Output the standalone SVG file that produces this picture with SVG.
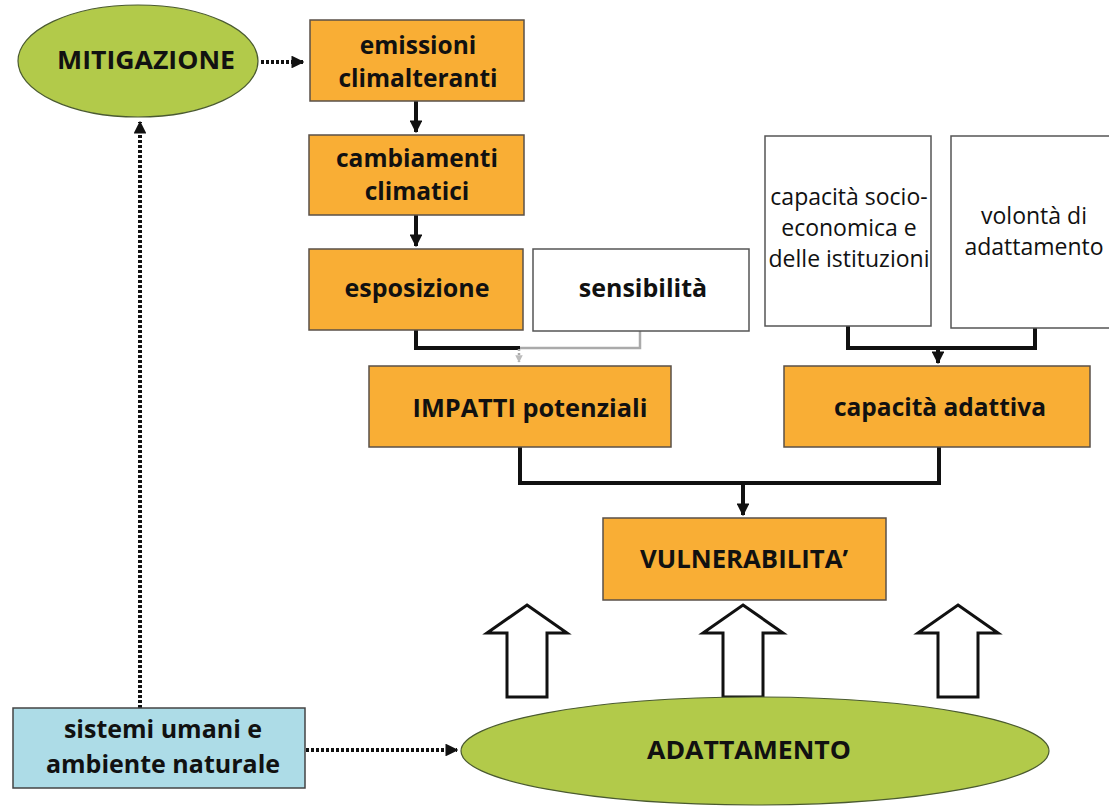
<svg xmlns="http://www.w3.org/2000/svg" width="1109" height="806" viewBox="0 0 1109 806">
<defs>
<style>
.or{fill:#F9AE35;stroke:#5a5048;stroke-width:1.5}
.wh{fill:#fff;stroke:#555;stroke-width:1.5}
.gr{fill:#B2CA4A;stroke:#4a5a30;stroke-width:1.2}
.bl{fill:#ADDCE7;stroke:#444;stroke-width:1.5}
.t{font-family:"Open Sans","Noto Sans",sans-serif;font-weight:bold;font-size:24.5px;fill:#111;text-anchor:middle}
.tn{font-family:"Open Sans","Noto Sans",sans-serif;font-size:23px;fill:#111;text-anchor:middle}
.c{fill:none;stroke:#111;stroke-width:4}
.cg{fill:none;stroke:#aaa;stroke-width:2.5}
.d{fill:none;stroke:#111;stroke-width:4;stroke-dasharray:3 2}
.ha{fill:#fff;stroke:#111;stroke-width:3;stroke-linejoin:miter}
</style>
<marker id="ah" viewBox="0 0 10 10" refX="9" refY="5" markerWidth="3.2" markerHeight="3.2" orient="auto"><path d="M0,0L10,5L0,10z" fill="#111"/></marker>
<marker id="ahg" viewBox="0 0 10 10" refX="9" refY="5" markerWidth="3" markerHeight="3" orient="auto"><path d="M0,0L10,5L0,10z" fill="#bbb"/></marker>
</defs>
<g id="connectors">
<path class="d" d="M261,62H303" marker-end="url(#ah)"/>
<path class="d" d="M140,708V122" marker-end="url(#ah)"/>
<path class="d" d="M306,750H457" marker-end="url(#ah)"/>
<path class="c" d="M416,101V132" marker-end="url(#ah)"/>
<path class="c" d="M416,215V246" marker-end="url(#ah)"/>
<path class="cg" d="M519,348H640V331"/>
<path class="c" d="M416,330V348H520"/>
<path class="cg" d="M519,349V362" stroke-dasharray="2 2" marker-end="url(#ahg)"/>
<path class="c" d="M848,326V348H1035V328"/>
<path class="c" d="M938,348V363" marker-end="url(#ah)"/>
<path class="c" d="M520,447V483H939V447"/>
<path class="c" d="M743,483V515" marker-end="url(#ah)"/>
<path class="ha" d="M527,605L567,633H547V697H507V633H487Z"/>
<path class="ha" d="M743,605L783,633H763V697H723V633H703Z"/>
<path class="ha" d="M958,605L998,633H978V697H938V633H918Z"/>
</g>
<g id="mitigazione"><ellipse class="gr" cx="138" cy="61" rx="120" ry="56"/><text class="t" x="146" y="69" textLength="178" lengthAdjust="spacingAndGlyphs">MITIGAZIONE</text></g>
<g id="emissioni"><rect class="or" x="310" y="20" width="214" height="81"/><text class="t" x="418" y="54">emissioni</text><text class="t" x="418" y="87">climalteranti</text></g>
<g id="cambiamenti"><rect class="or" x="309" y="135" width="215" height="80"/><text class="t" x="417" y="167">cambiamenti</text><text class="t" x="417" y="200">climatici</text></g>
<g id="esposizione"><rect class="or" x="309" y="249" width="214" height="81"/><text class="t" x="417" y="297" style="font-size:25px">esposizione</text></g>
<g id="sensibilita"><rect class="wh" x="533" y="249" width="216" height="82"/><text class="t" x="643" y="297" style="font-size:25px">sensibilità</text></g>
<g id="capacita-socio"><rect class="wh" x="765" y="136" width="166" height="190"/><text class="tn" x="849" y="205">capacità socio-</text><text class="tn" x="849" y="236">economica e</text><text class="tn" x="849" y="267">delle istituzioni</text></g>
<g id="volonta"><rect class="wh" x="951" y="136" width="165" height="192"/><text class="tn" x="1034" y="224">volontà di</text><text class="tn" x="1034" y="255">adattamento</text></g>
<g id="impatti"><rect class="or" x="369" y="366" width="302" height="81"/><text class="t" x="530" y="417" textLength="235" lengthAdjust="spacingAndGlyphs">IMPATTI potenziali</text></g>
<g id="capacita-adattiva"><rect class="or" x="784" y="366" width="306" height="81"/><text class="t" x="940" y="416" textLength="212" lengthAdjust="spacingAndGlyphs">capacità adattiva</text></g>
<g id="vulnerabilita"><rect class="or" x="603" y="518" width="283" height="82"/><text class="t" x="744" y="568" textLength="208" lengthAdjust="spacingAndGlyphs">VULNERABILITA’</text></g>
<g id="sistemi"><rect class="bl" x="13" y="708" width="292" height="80"/><text class="t" x="163" y="738" style="font-size:25px">sistemi umani e</text><text class="t" x="163" y="773" style="font-size:25px">ambiente naturale</text></g>
<g id="adattamento"><ellipse class="gr" cx="755" cy="751" rx="294" ry="54"/><text class="t" x="749" y="759" textLength="204" lengthAdjust="spacingAndGlyphs">ADATTAMENTO</text></g>
</svg>
